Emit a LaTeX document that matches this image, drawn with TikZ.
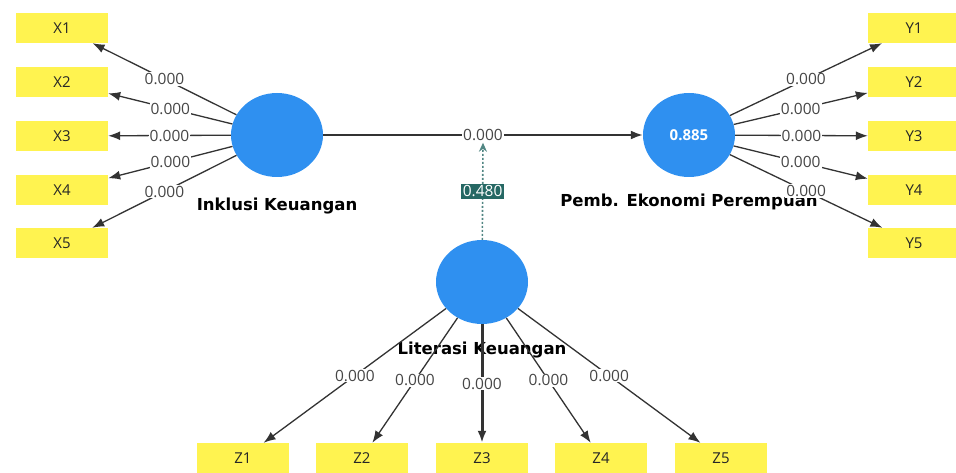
\documentclass[tikz,border=0pt]{standalone}
\usepackage{fontspec}
\setmainfont{Open Sans}
\newfontfamily\namefont{DejaVu Sans}
\usetikzlibrary{arrows.meta, positioning, shapes.geometric, calc}

\definecolor{indyellow}{RGB}{255,243,80}
\definecolor{latblue}{RGB}{47,144,240}
\definecolor{modteal}{RGB}{38,104,100}
\definecolor{valgray}{RGB}{70,70,70}

\begin{document}
\begin{tikzpicture}[x=1pt, y=-1pt,
  indicator/.style={fill=indyellow, minimum width=92pt, minimum height=30pt, inner sep=0pt, text=black!85, font=\fontsize{15}{15}\selectfont},
  latent/.style={ellipse, fill=latblue, minimum width=92pt, minimum height=84pt, inner sep=0pt},
  latname/.style={font=\namefont\bfseries\fontsize{16.5}{16.5}\selectfont, inner sep=1pt},
  loading/.style={-{Latex[length=12pt,width=9pt]}, line width=1.3pt, draw=black!80},
  value/.style={fill=white, inner sep=1pt, text=valgray, font=\fontsize{15.5}{15.5}\selectfont},
]
\useasboundingbox (0,0) rectangle (956,473);

% Latent variables
\node[latent] (ik) at (277,135) {};
\node[latent, font=\bfseries\fontsize{15}{15}\selectfont, text=white] (pe) at (689,135) {0.885};
\node[latent] (lk) at (482,282) {};

\node[latname, below=20pt of ik] (ikname) {Inklusi Keuangan};
\node[latname, below=16pt of pe] (pename) {Pemb. Ekonomi Perempuan};
\node[latname, below=17pt of lk] (lkname) {Literasi Keuangan};

% Indicators of Inklusi Keuangan
\node[indicator] (x1) at (62,28)  {X1};
\node[indicator] (x2) at (62,82)  {X2};
\node[indicator] (x3) at (62,136) {X3};
\node[indicator] (x4) at (62,190) {X4};
\node[indicator] (x5) at (62,243) {X5};

% Indicators of Pemb. Ekonomi Perempuan
\node[indicator] (y1) at (914,28)  {Y1};
\node[indicator] (y2) at (914,82)  {Y2};
\node[indicator] (y3) at (914,136) {Y3};
\node[indicator] (y4) at (914,190) {Y4};
\node[indicator] (y5) at (914,243) {Y5};

% Indicators of Literasi Keuangan
\node[indicator] (z1) at (243,458) {Z1};
\node[indicator] (z2) at (362,458) {Z2};
\node[indicator] (z3) at (482,458) {Z3};
\node[indicator] (z4) at (601,458) {Z4};
\node[indicator] (z5) at (721,458) {Z5};

% Outer loadings
\draw[loading] (ik) -- node[value] {0.000} (x1);
\draw[loading] (ik) -- node[value] {0.000} (x2);
\draw[loading] (ik) -- node[value] {0.000} (x3);
\draw[loading] (ik) -- node[value] {0.000} (x4);
\draw[loading] (ik) -- node[value] {0.000} (x5);

\draw[loading] (pe) -- node[value] {0.000} (y1);
\draw[loading] (pe) -- node[value] {0.000} (y2);
\draw[loading] (pe) -- node[value] {0.000} (y3);
\draw[loading] (pe) -- node[value] {0.000} (y4);
\draw[loading] (pe) -- node[value] {0.000} (y5);

\draw[loading] (lk) -- node[value] {0.000} (z1);
\draw[loading] (lk) -- node[value] {0.000} (z2);
\draw[loading, line width=3pt] (lk) -- node[value] {0.000} (z3);
\draw[loading] (lk) -- node[value] {0.000} (z4);
\draw[loading] (lk) -- node[value] {0.000} (z5);

% Structural path and moderating effect
\draw[loading, line width=2pt] (ik) -- node[value] (mid) {0.000} (pe);
\draw[-{Stealth[length=9pt,width=8pt,open]}, modteal!80, line width=1.6pt, dash pattern=on 2pt off 2pt]
  (lk) -- node[fill=modteal, text=white, inner sep=2pt, font=\fontsize{15.5}{15.5}\selectfont] (mod) {0.480} (mid.south);

\end{tikzpicture}
\end{document}
